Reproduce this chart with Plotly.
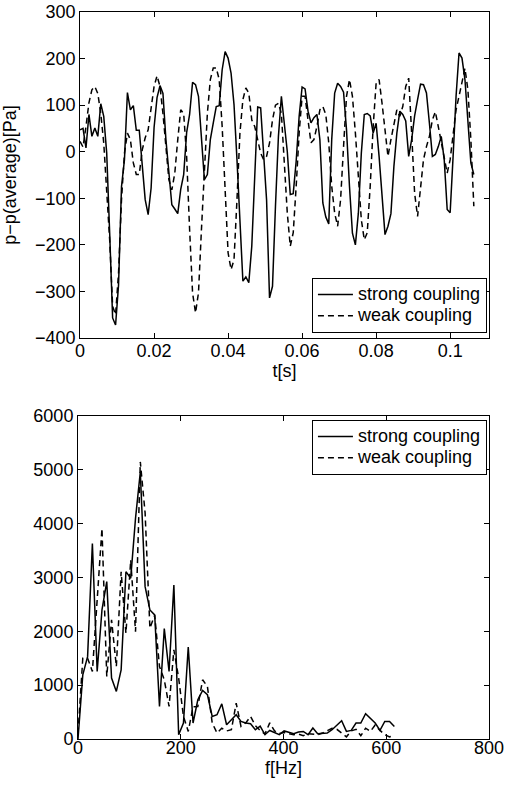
import numpy as np
import plotly.graph_objects as go

# ---- data ----
DT = 0.0008          # sampling interval [s]
DF = 9.33            # frequency resolution [Hz]

strong_p = [47, 50, 8, 80, 33, 51, 33, 103, 76, -3,
            -174, -357, -372, -286, -75, -17, 127, 90, 99, 46,
            46, -39, -103, -135, -78, 52, 116, 142, 125, 26,
            -53, -114, -123, -133, -81, -49, 41, 80, 149, 144,
            119, 33, -60, -49, 26, 62, 97, 99, 176, 215,
            201, 169, 101, -17, -153, -278, -269, -281, -203, -60,
            96, 94, -3, -103, -314, -289, -117, 33, 119, 54,
            0, -92, -90, -20, 76, 139, 135, 87, 62, 73,
            80, 26, -110, -140, -155, 26, 126, 147, 140, 128,
            47, -74, -175, -200, -132, -3, 80, 82, 77, 40,
            61, -10, -103, -178, -160, -133, -32, 40, 87, 80,
            66, -10, 26, 77, 112, 145, 144, 126, 61, -10,
            -6, 11, 33, -17, -124, -131, -10, 119, 212, 201,
            155, 68, -24, -49]

weak_p = [22, 10, 54, 105, 133, 140, 125, 82, 19, -74,
          -189, -332, -350, -260, -103, -3, 40, 26, -24, -49,
          -49, 4, 30, 47, 90, 140, 163, 140, 82, 11,
          -60, -82, -46, 26, 90, 82, -10, -167, -303, -346,
          -303, -167, -32, 82, 155, 180, 180, 155, 54, -89,
          -217, -253, -232, -103, 40, 112, 137, 126, 68, 54,
          26, -3, -17, -10, 19, 68, 100, 104, 82, -17,
          -132, -203, -174, -74, 40, 119, 119, 68, 19, 26,
          54, 90, 97, 80, 19, -74, -132, -160, -103, 11,
          119, 155, 119, 40, -53, -146, -189, -174, -74, 54,
          147, 155, 104, 40, -10, 26, 61, 90, 76, 97,
          140, 158, 40, -89, -139, -81, -17, 11, 33, 68,
          86, 54, 19, -17, -46, -17, 40, 90, 119, 147,
          179, 133, 26, -117]

strong_amp = [0, 1190, 1530, 3630, 1254, 2398, 2923, 1131, 884, 1285,
              3108, 2985, 4100, 4960, 2830, 2398, 2305, 605, 2050, 1254,
              2861, 80, 297, 1710, 297, 729, 901, 822, 419, 450,
              654, 265, 358, 450, 327, 297, 284, 172, 240, 80,
              158, 121, 80, 150, 122, 98, 130, 141, 80, 204,
              98, 98, 110, 173, 265, 339, 141, 160, 296, 296,
              469, 389, 296, 160, 327, 327, 234]

weak_amp = [100, 1500, 1500, 1254, 2583, 3912, 1161, 2212, 1346, 3108,
            1965, 3325, 1995, 5147, 4200, 2058, 2300, 1346, 1100, 605,
            1656, 1131, 419, 141, 600, 605, 1100, 975, 297, 111,
            200, 150, 172, 667, 235, 300, 420, 250, 160, 90,
            300, 150, 100, 120, 100, 80, 90, 60, 100, 90,
            80, 110, 150, 200, 180, 110, 40, 150, 180, 60,
            200, 140, 260, 160, 80, 40, 60]

series_names = ["strong coupling", "weak coupling"]
t_ticks = [0, 0.02, 0.04, 0.06, 0.08, 0.1]
t_ticklabels = ["0", "0.02", "0.04", "0.06", "0.08", "0.1"]

t_strong = np.arange(len(strong_p)) * DT
t_weak = np.arange(len(weak_p)) * DT
f_strong = np.arange(len(strong_amp)) * DF
f_weak = np.arange(len(weak_amp)) * DF

FONT = "Liberation Sans, Arial, Helvetica, sans-serif"
FS = 18
DASH = "6px,4px"


def legend_name(s):
    return "<span style='font-size:%dpx'>%s</span>" % (FS, s)


fig = go.Figure()
fig.add_trace(go.Scatter(x=t_strong, y=strong_p, mode="lines", name=legend_name(series_names[0]),
                         line=dict(color="black", width=1.5),
                         xaxis="x", yaxis="y", legend="legend"))
fig.add_trace(go.Scatter(x=t_weak, y=weak_p, mode="lines", name=legend_name(series_names[1]),
                         line=dict(color="black", width=1.5, dash=DASH),
                         xaxis="x", yaxis="y", legend="legend"))
fig.add_trace(go.Scatter(x=f_strong, y=strong_amp, mode="lines", name=legend_name(series_names[0]),
                         line=dict(color="black", width=1.5),
                         xaxis="x2", yaxis="y2", legend="legend2"))
fig.add_trace(go.Scatter(x=f_weak, y=weak_amp, mode="lines", name=legend_name(series_names[1]),
                         line=dict(color="black", width=1.5, dash=DASH),
                         xaxis="x2", yaxis="y2", legend="legend2"))

axis_common = dict(showline=True, linecolor="black", linewidth=1, mirror="ticks",
                   ticks="inside", ticklen=5, tickcolor="black", showgrid=False,
                   zeroline=False, automargin=False, ticklabeloverflow="allow",
                   tickfont=dict(family=FONT, size=FS, color="black"))

legend_common = dict(bgcolor="white", bordercolor="black", borderwidth=1,
                     font=dict(family=FONT, size=14, color="black"),
                     xanchor="right", tracegroupgap=0, itemwidth=35)

fig.update_layout(
    width=505, height=785,
    margin=dict(l=78, r=16, t=12, b=46, autoexpand=False),
    paper_bgcolor="white", plot_bgcolor="white",
    hovermode=False,
    font=dict(family=FONT, size=FS, color="black"),
    xaxis=dict(axis_common, domain=[0.005, 1], anchor="y", range=[0, 0.1105],
               tickvals=t_ticks, ticktext=t_ticklabels, ticklabelstandoff=-4,
               title=dict(text="t[s]", standoff=0, font=dict(family=FONT, size=FS))),
    yaxis=dict(axis_common, domain=[0.5516, 1], anchor="x", range=[-400, 300], dtick=100,
               title=dict(text="p\u2212p(average)[Pa]", standoff=35, font=dict(family=FONT, size=FS))),
    xaxis2=dict(axis_common, domain=[0, 1], anchor="y2", range=[0, 800], dtick=200,
                ticklabelstandoff=-8,
                title=dict(text="f[Hz]", standoff=0, font=dict(family=FONT, size=FS))),
    yaxis2=dict(axis_common, domain=[0, 0.4443], anchor="x2", range=[0, 6000], dtick=1000),
    legend=dict(legend_common, x=0.995, y=0.5585, yanchor="bottom"),
    legend2=dict(legend_common, x=0.995, y=0.4388, yanchor="top"),
)

fig.write_html("out.html", config={"displayModeBar": False},
               post_script="document.body.style.margin='0';")
